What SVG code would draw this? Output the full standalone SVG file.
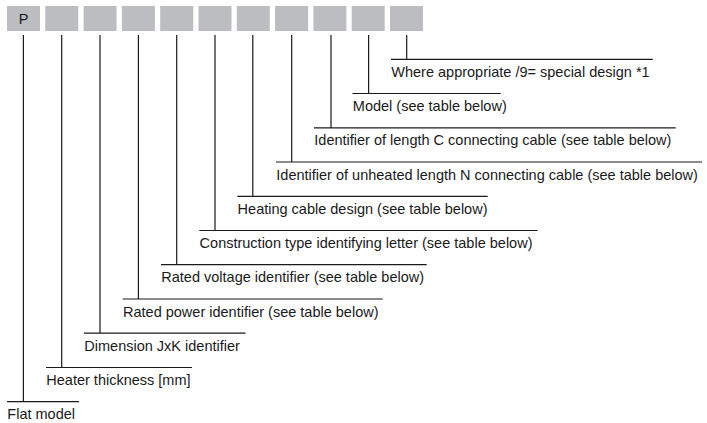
<svg xmlns="http://www.w3.org/2000/svg" width="707" height="423" viewBox="0 0 707 423">
<style>
.box{fill:#bcbdc0}
.ln{stroke:#1a1a1a;stroke-width:1.2;fill:none}
.t{font-family:"Liberation Sans",Arial,sans-serif;font-size:14.5px;fill:#1a1a1a}
</style>
<rect width="707" height="423" fill="#ffffff"/>
<g id="boxes">
<g id="box1"><rect class="box" x="7" y="6" width="33" height="25"/><text class="t" x="23.5" y="24" text-anchor="middle">P</text></g>
<g id="box2"><rect class="box" x="45.3" y="6" width="33" height="25"/></g>
<g id="box3"><rect class="box" x="83.6" y="6" width="33" height="25"/></g>
<g id="box4"><rect class="box" x="121.9" y="6" width="33" height="25"/></g>
<g id="box5"><rect class="box" x="160.2" y="6" width="33" height="25"/></g>
<g id="box6"><rect class="box" x="198.5" y="6" width="33" height="25"/></g>
<g id="box7"><rect class="box" x="236.8" y="6" width="33" height="25"/></g>
<g id="box8"><rect class="box" x="275.1" y="6" width="33" height="25"/></g>
<g id="box9"><rect class="box" x="313.4" y="6" width="33" height="25"/></g>
<g id="box10"><rect class="box" x="351.7" y="6" width="33" height="25"/></g>
<g id="box11"><rect class="box" x="390" y="6" width="33" height="25"/></g>
</g>
<g id="connectors">
<path class="ln" d="M23.4 35V401.7M7 401.7H79"/>
<path class="ln" d="M61.7 35V367.5M46 367.5H192"/>
<path class="ln" d="M100 35V333.2M84 333.2H245.6"/>
<path class="ln" d="M138.4 35V299M122.7 299H382.7"/>
<path class="ln" d="M176.7 35V264.7M161 264.7H426.7"/>
<path class="ln" d="M215 35V230.5M199.3 230.5H537.5"/>
<path class="ln" d="M252.8 35V196.3M237.3 196.3H487.7"/>
<path class="ln" d="M291.7 35V162M276 162H702"/>
<path class="ln" d="M331 35V127.8M314 127.8H675.7"/>
<path class="ln" d="M368.6 35V93.5M352.5 93.5H500.7"/>
<path class="ln" d="M406.7 35V59.3M391 59.3H652.7"/>
</g>
<g id="labels">
<g id="l1"><text class="t" x="7.3" y="419.3">Flat model</text></g>
<g id="l2"><text class="t" x="46.3" y="385.1">Heater thickness [mm]</text></g>
<g id="l3"><text class="t" x="84.3" y="350.8">Dimension JxK identifier</text></g>
<g id="l4"><text class="t" x="123" y="316.6">Rated power identifier (see table below)</text></g>
<g id="l5"><text class="t" x="161.3" y="282.3">Rated voltage identifier (see table below)</text></g>
<g id="l6"><text class="t" x="199.6" y="248.1">Construction type identifying letter (see table below)</text></g>
<g id="l7"><text class="t" x="237.6" y="213.9">Heating cable design (see table below)</text></g>
<g id="l8"><text class="t" x="276.3" y="179.6">Identifier of unheated length N connecting cable (see table below)</text></g>
<g id="l9"><text class="t" x="314.3" y="145.4">Identifier of length C connecting cable (see table below)</text></g>
<g id="l10"><text class="t" x="352.8" y="111.1">Model (see table below)</text></g>
<g id="l11"><text class="t" x="391.3" y="76.9">Where appropriate /9= special design *1</text></g>
</g>
</svg>
